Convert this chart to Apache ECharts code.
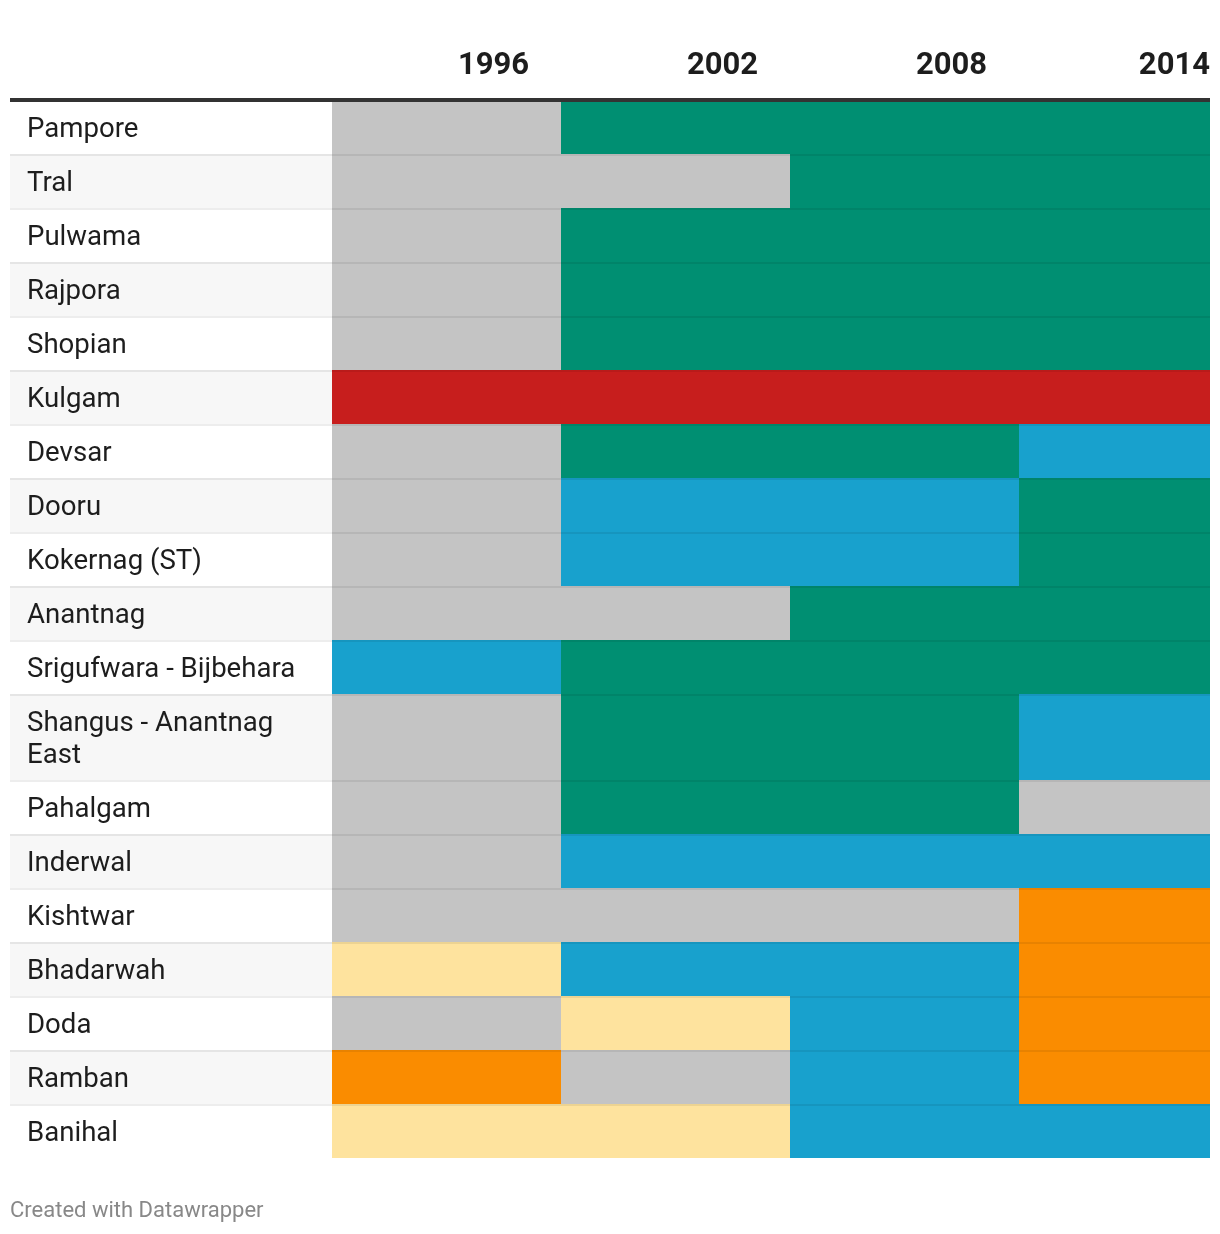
<!DOCTYPE html>
<html>
<head>
<meta charset="utf-8">
<script src="https://cdn.jsdelivr.net/npm/echarts@6/dist/echarts.min.js"></script>
<style>
html,body{margin:0;padding:0;background:#fff;}
#chart{width:1220px;height:1234px;}
</style>
</head>
<body>
<div id="chart"></div>
<script>
// ---- data ----
const years = [1996, 2002, 2008, 2014];
const constituencies = [
  'Pampore', 'Tral', 'Pulwama', 'Rajpora', 'Shopian', 'Kulgam', 'Devsar', 'Dooru',
  'Kokernag (ST)', 'Anantnag', 'Srigufwara - Bijbehara', 'Shangus - Anantnag\nEast',
  'Pahalgam', 'Inderwal', 'Kishtwar', 'Bhadarwah', 'Doda', 'Ramban', 'Banihal'
];
// colour codes: G green, B blue, R red, O orange, Y yellow, N grey
const results1996 = ['N','N','N','N','N','R','N','N','N','N','B','N','N','N','N','Y','N','O','Y'];
const results2002 = ['G','N','G','G','G','R','G','B','B','N','G','G','G','B','N','B','Y','N','Y'];
const results2008 = ['G','G','G','G','G','R','G','B','B','G','G','G','G','B','N','B','B','B','B'];
const results2014 = ['G','G','G','G','G','R','B','G','G','G','G','B','N','B','O','O','O','O','B'];
const resultsByYear = [results1996, results2002, results2008, results2014];
const codeColors = { G: '#008f72', B: '#18a1cd', R: '#c71e1d', O: '#fa8c00', Y: '#fee39e', N: '#c4c4c4' };

// ---- layout helpers ----
const HALF_SPAN = 3;          // each column spans a 6-year window
const X_MIN = years[0] - HALF_SPAN;
const X_MAX = 2016;
const LABEL_W = 322;
const EXTRA_LINE = 0.6;

const rows = [];
let acc = 0;
constituencies.forEach((name, i) => {
  const lines = name.split('\n').length;
  const h = 1 + EXTRA_LINE * (lines - 1);
  rows.push([i, acc, acc + h]);
  acc += h;
});
const Y_MAX = acc;

const chart = echarts.init(document.getElementById('chart'));

function renderRow(params, api) {
  const i = api.value(0);
  const y0 = api.value(1), y1 = api.value(2);
  const cs = params.coordSys;
  const top = Math.round(api.coord([X_MIN, y0])[1]);
  const bot = Math.round(api.coord([X_MIN, y1])[1]);
  const h = bot - top;
  const left = cs.x - LABEL_W;
  const right = cs.x + cs.width;
  const children = [];
  children.push({ type: 'rect', shape: { x: left, y: top, width: right - left, height: h },
    style: { fill: i % 2 ? '#f7f7f7' : '#ffffff' } });
  years.forEach((yr, j) => {
    const x0 = Math.round(api.coord([yr - HALF_SPAN, y0])[0]);
    const x1 = Math.round(Math.min(api.coord([yr + HALF_SPAN, y0])[0], right));
    children.push({ type: 'rect', shape: { x: x0, y: top, width: x1 - x0, height: h },
      style: { fill: codeColors[resultsByYear[j][i]] } });
  });
  if (i > 0) {
    children.push({ type: 'rect', shape: { x: left, y: top, width: right - left, height: 2 },
      style: { fill: 'rgba(0,0,0,0.07)' } });
  }
  children.push({ type: 'text', x: left + 17, y: top + h / 2 + 3,
    style: { text: constituencies[i], fill: '#1d1d1d', font: '27.6px Roboto', lineHeight: 32,
      textAlign: 'left', textVerticalAlign: 'middle' } });
  if (i === 0) {
    children.push({ type: 'rect', shape: { x: left, y: top - 2, width: right - left, height: 4 },
      style: { fill: '#333333' } });
  }
  return { type: 'group', children };
}

function renderHeader(params, api) {
  const yr = api.value(0);
  const cs = params.coordSys;
  const right = cs.x + cs.width;
  const x = Math.min(api.coord([yr + HALF_SPAN, 0])[0] - 32, right);
  return { type: 'text', x: x, y: cs.y - 34,
    style: { text: String(yr), fill: '#1d1d1d', font: 'bold 31px Roboto',
      textAlign: 'right', textVerticalAlign: 'middle' } };
}

chart.setOption({
  animation: false,
  title: { text: 'Created with Datawrapper', left: 10, top: 1200, padding: 0,
    textStyle: { color: '#888888', fontSize: 22, fontWeight: 'normal', fontFamily: 'Roboto' } },
  grid: { left: 332, right: 10, top: 100, bottom: 76 },
  xAxis: { type: 'value', min: X_MIN, max: X_MAX, show: false },
  yAxis: { type: 'value', min: 0, max: Y_MAX, inverse: true, show: false },
  series: [
    { type: 'custom', renderItem: renderRow, data: rows, clip: false, silent: true },
    { type: 'custom', renderItem: renderHeader, data: years.map(y => [y]), clip: false, silent: true }
  ]
});
</script>
</body>
</html>
